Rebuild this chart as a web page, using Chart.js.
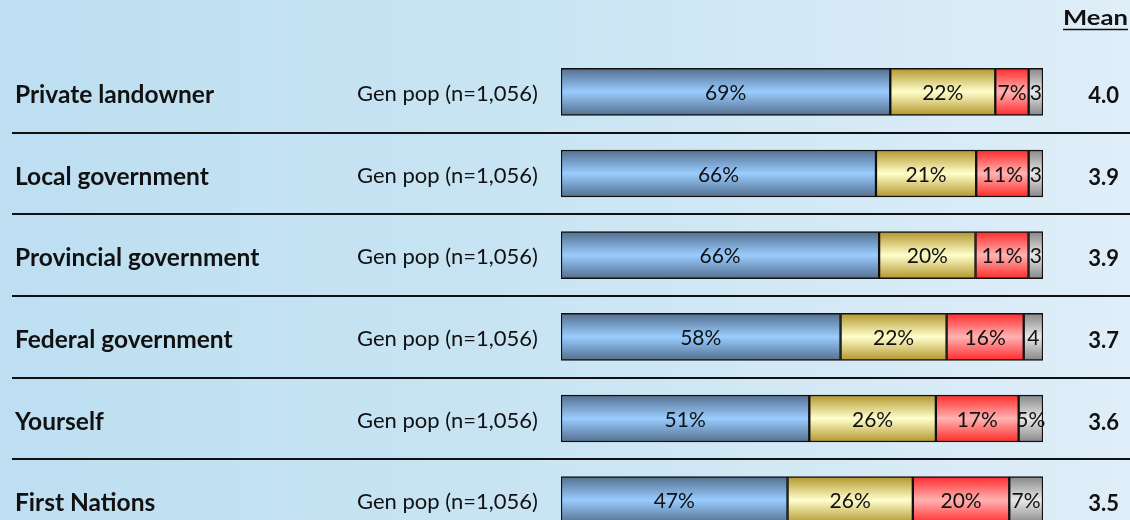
<!DOCTYPE html>
<html>
<head>
<meta charset="utf-8">
<script src="https://cdn.jsdelivr.net/npm/chart.js@4.4.0/dist/chart.umd.min.js"></script>
<style>
    html, body {
        margin: 0;
        padding: 0;
        width: 1130px;
        height: 520px;
        overflow: hidden;
        background: linear-gradient(to right, #bddff1 0%, #c8e4f3 45%, #dfeef8 100%);
    }
    #wrap {
        position: relative;
        width: 1130px;
        height: 545px;
    }
</style>
</head>
<body>
<div id="wrap"><canvas id="chart"></canvas></div>
<script>
// values
var categories = ['Private landowner', 'Local government', 'Provincial government', 'Federal government', 'Yourself', 'First Nations'];
var sampleLabel = 'Gen pop (n=1,056)';
var means = ['4.0', '3.9', '3.9', '3.7', '3.6', '3.5'];

var blueVals = [69, 66, 66, 58, 51, 47];
var yellowVals = [22, 21, 20, 22, 26, 26];
var redVals = [7, 11, 11, 16, 17, 20];
var greyVals = [3, 3, 3, 4, 5, 7];

var blueText = ['69%', '66%', '66%', '58%', '51%', '47%'];
var yellowText = ['22%', '21%', '20%', '22%', '26%', '26%'];
var redText = ['7%', '11%', '11%', '16%', '17%', '20%'];
var greyText = ['3', '3', '3', '4', '5%', '7%'];

var FONT = 'Lato, "Open Sans", sans-serif';
var BAR_H = 47;

// each row is drawn as a full 100% bar
function rowTotal(i) {
    return blueVals[i] + yellowVals[i] + redVals[i] + greyVals[i];
}
function share(arr) {
    return arr.map(function (v, i) { return v / rowTotal(i) * 100; });
}

function gradFill(edge, mid) {
    return function (context) {
        var chart = context.chart;
        if (!chart.chartArea || !chart.scales.y) return mid;
        var yc = chart.scales.y.getPixelForValue(context.dataIndex);
        var g = chart.ctx.createLinearGradient(0, yc - BAR_H / 2, 0, yc + BAR_H / 2);
        g.addColorStop(0, edge);
        g.addColorStop(0.5, mid);
        g.addColorStop(1, edge);
        return g;
    };
}

var segText = [blueText, yellowText, redText, greyText];

var rowDecor = {
    id: 'rowDecor',
    afterDatasetsDraw: function (chart) {
        var ctx = chart.ctx;
        var y = chart.scales.y;
        ctx.save();

        // separators between rows
        ctx.strokeStyle = '#111';
        ctx.lineWidth = 2;
        for (var i = 0; i < categories.length - 1; i++) {
            var ly = Math.round((y.getPixelForValue(i) + y.getPixelForValue(i + 1)) / 2);
            ctx.beginPath();
            ctx.moveTo(12, ly);
            ctx.lineTo(1130, ly);
            ctx.stroke();
        }

        ctx.textBaseline = 'alphabetic';
        ctx.fillStyle = '#111';
        categories.forEach(function (name, i) {
            var yc = y.getPixelForValue(i);
            ctx.font = 'bold 24.5px ' + FONT;
            ctx.textAlign = 'left';
            ctx.fillText(name, 15, yc + 11);

            ctx.font = '22px ' + FONT;
            ctx.fillText(sampleLabel, 357, yc + 9);

            ctx.font = 'bold 22px ' + FONT;
            ctx.textAlign = 'right';
            ctx.fillText(means[i], 1119, yc + 11);
        });

        // segment labels
        ctx.font = '21px ' + FONT;
        ctx.textAlign = 'center';
        chart.data.datasets.forEach(function (ds, d) {
            var meta = chart.getDatasetMeta(d);
            meta.data.forEach(function (bar, i) {
                var c = bar.getCenterPoint();
                ctx.fillText(segText[d][i], c.x, c.y + 8);
            });
        });

        // header, a little wider than the font draws it
        ctx.font = 'bold 21px ' + FONT;
        ctx.textAlign = 'left';
        var w = ctx.measureText('Mean').width;
        var sx = 65 / w;
        ctx.save();
        ctx.translate(1063, 25);
        ctx.scale(sx, 1);
        ctx.fillText('Mean', 0, 0);
        ctx.restore();
        ctx.lineWidth = 1.5;
        ctx.beginPath();
        ctx.moveTo(1063, 29.5);
        ctx.lineTo(1128, 29.5);
        ctx.stroke();

        ctx.restore();
    }
};

var ctx = document.getElementById('chart').getContext('2d');
new Chart(ctx, {
    type: 'bar',
    data: {
        labels: categories,
        datasets: [
            { data: share(blueVals), backgroundColor: gradFill('#546f8e', '#99ccff') },
            { data: share(yellowVals), backgroundColor: gradFill('#b3962c', '#ffffcc') },
            { data: share(redVals), backgroundColor: gradFill('#ff2a2a', '#ffb3b3') },
            { data: share(greyVals), backgroundColor: gradFill('#878787', '#e8e8e8') }
        ]
    },
    options: {
        indexAxis: 'y',
        responsive: true,
        maintainAspectRatio: false,
        animation: false,
        layout: {
            padding: { left: 561, right: 87, top: 51, bottom: 4 }
        },
        datasets: {
            bar: {
                barThickness: BAR_H,
                borderColor: '#111',
                borderWidth: 1.5,
                borderSkipped: false
            }
        },
        scales: {
            x: { stacked: true, min: 0, max: 100, display: false },
            y: { stacked: true, display: false }
        },
        plugins: {
            legend: { display: false },
            tooltip: { enabled: false }
        }
    },
    plugins: [rowDecor]
});
</script>
</body>
</html>
